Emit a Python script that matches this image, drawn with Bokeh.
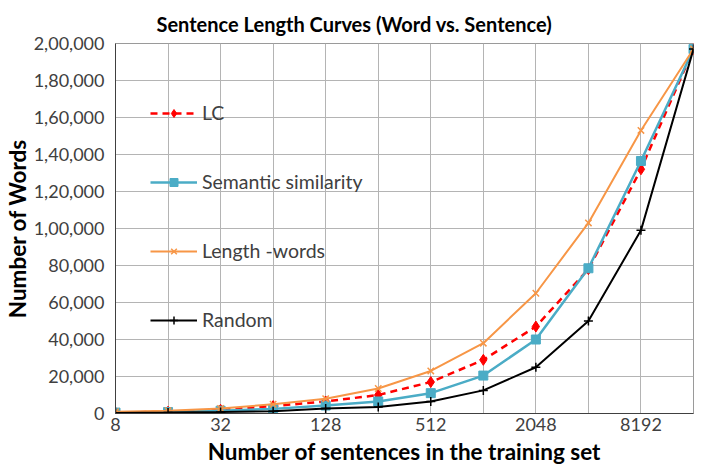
from bokeh.plotting import figure
from bokeh.models import Range1d, FixedTicker, Legend, LegendItem
from bokeh.embed import file_html
from bokeh.resources import INLINE

# ---- data ----
sentences = [8, 16, 32, 64, 128, 256, 512, 1024, 2048, 4096, 8192, 16384]
lc = [500, 1000, 2000, 4000, 6500, 10000, 17000, 29000, 47000, 78000, 132000, 197000]
semantic = [500, 800, 1500, 2500, 4300, 6500, 11000, 20500, 40000, 78500, 136500, 197000]
length_words = [1000, 1500, 2700, 5000, 8000, 13500, 23000, 38000, 65000, 103000, 153000, 197000]
random_sel = [300, 500, 800, 1200, 2700, 3500, 6500, 12500, 25000, 50000, 99000, 197000]

x_major_ticks = [8, 32, 128, 512, 2048, 8192]
x_minor_ticks = [16, 64, 256, 1024, 4096, 16384]
y_ticks = [0, 20000, 40000, 60000, 80000, 100000, 120000, 140000, 160000, 180000, 200000]
y_tick_labels = ["0", "20,000", "40,000", "60,000", "80,000", "1,00,000", "1,20,000",
                 "1,40,000", "1,60,000", "1,80,000", "2,00,000"]

FONT = "Lato"
TXT = "#404040"
GRID = "#B4B4B4"

p = figure(width=701, height=471, x_axis_type="log", output_backend="svg",
           toolbar_location=None, title="Sentence Length Curves (Word vs. Sentence)",
           min_border_left=114, min_border_right=8, min_border_top=43, min_border_bottom=58)
p.x_range = Range1d(8, 16384)
p.y_range = Range1d(0, 200000)

p.title.align = "left"
p.title.offset = 41
p.title.standoff = 12
p.title.vertical_align = "top"
p.title.text_font = FONT
p.title.text_font_size = "20px"
p.title.text_font_style = "bold"
p.title.text_color = "#000000"

p.xaxis.ticker = FixedTicker(ticks=x_major_ticks, minor_ticks=x_minor_ticks)
p.xaxis.major_label_overrides = {t: str(t) for t in x_major_ticks}
p.yaxis.ticker = FixedTicker(ticks=y_ticks)
p.yaxis.major_label_overrides = dict(zip(y_ticks, y_tick_labels))

for ax in (p.xaxis[0], p.yaxis[0]):
    ax.major_label_text_font = FONT
    ax.major_label_text_font_size = "18px"
    ax.major_label_text_color = TXT
    ax.major_tick_line_color = None
    ax.minor_tick_line_color = None
    ax.major_tick_out = 0
    ax.major_tick_in = 0
    ax.minor_tick_out = 0
    ax.minor_tick_in = 0
    ax.axis_line_color = "#404040"
    ax.axis_label_text_font = FONT
    ax.axis_label_text_font_size = "22.5px"
    ax.axis_label_text_font_style = "bold"
    ax.axis_label_text_color = "#000000"

p.xaxis.major_label_standoff = 4
p.yaxis.major_label_standoff = 11
p.xaxis.axis_label_standoff = 4
p.yaxis.axis_label_standoff = 0

p.xaxis.axis_label = "Number of sentences in the training set"
p.yaxis.axis_label = "Number of Words"

p.xgrid.grid_line_color = GRID
p.xgrid.minor_grid_line_color = GRID
p.ygrid.grid_line_color = GRID
p.outline_line_color = "#9A9A9A"

# series
r_lc_l = p.line(sentences, lc, line_color="#FF0000", line_width=2.5, line_dash="7 5")
r_lc_m = p.scatter(sentences, lc, marker="diamond", size=11, color="#FF0000")

r_se_l = p.line(sentences, semantic, line_color="#4BACC6", line_width=2.5)
r_se_m = p.scatter(sentences, semantic, marker="square", size=9, color="#4BACC6")

r_le_l = p.line(sentences, length_words, line_color="#F79646", line_width=2)
r_le_m = p.scatter(sentences, length_words, marker="x", size=9, line_color="#F79646", line_width=1.5)

r_ra_l = p.line(sentences, random_sel, line_color="#000000", line_width=2)
r_ra_m = p.scatter(sentences, random_sel, marker="cross", size=9, line_color="#000000", line_width=1.5)

legend = Legend(items=[
    LegendItem(label="LC", renderers=[r_lc_l, r_lc_m]),
    LegendItem(label="Semantic similarity", renderers=[r_se_l, r_se_m]),
    LegendItem(label="Length -words", renderers=[r_le_l, r_le_m]),
    LegendItem(label="Random", renderers=[r_ra_l, r_ra_m]),
], location=(35, 82))
legend.background_fill_alpha = 0
legend.border_line_color = None
legend.margin = 0
legend.padding = 0
legend.spacing = 46
legend.glyph_width = 47
legend.glyph_height = 20
legend.label_height = 20
legend.label_standoff = 5
legend.label_text_font = FONT
legend.label_text_font_size = "19.5px"
legend.label_text_color = TXT
p.add_layout(legend, "center")

open("out.html", "w").write(file_html(p, INLINE))
